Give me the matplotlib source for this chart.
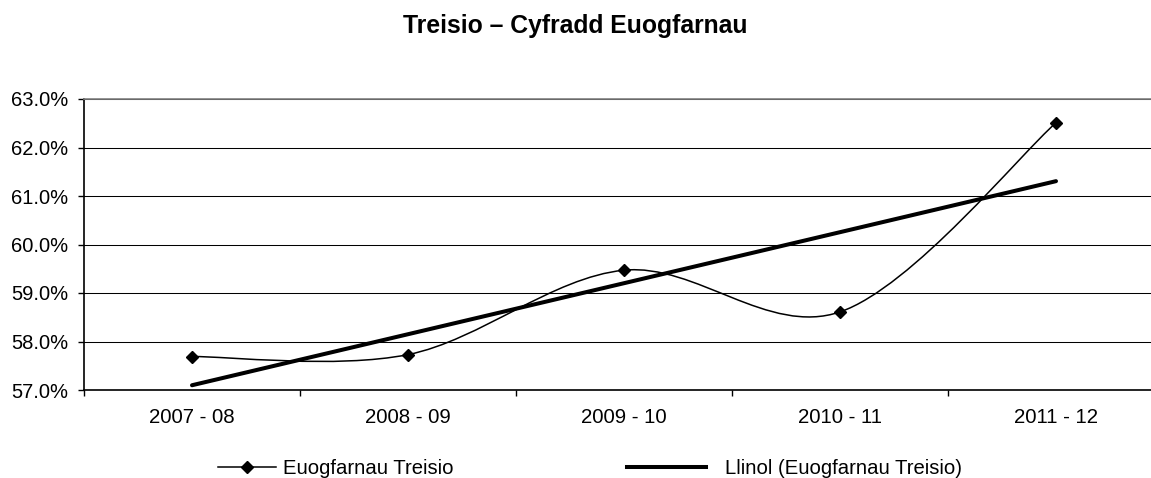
import numpy as np
import matplotlib
matplotlib.use("Agg")
import matplotlib.pyplot as plt
from matplotlib.path import Path
from matplotlib.patches import PathPatch
from matplotlib.lines import Line2D
from matplotlib.ticker import FuncFormatter, FixedLocator

plt.rcParams['font.family'] = ['Liberation Sans', 'DejaVu Sans']

categories = ["2007 - 08", "2008 - 09", "2009 - 10", "2010 - 11", "2011 - 12"]
rate = [57.69, 57.73, 59.47, 58.61, 62.51]
series_name = "Euogfarnau Treisio"
trend_name = "Llinol (Euogfarnau Treisio)"
title = "Treisio – Cyfradd Euogfarnau"
yticks = [57, 58, 59, 60, 61, 62, 63]

W, H = 1151, 478
fig = plt.figure(figsize=(W / 100, H / 100), dpi=100)
ax = fig.add_axes([84 / W, (H - 390) / H, 1080 / W, 291 / H])

x = np.arange(1, len(rate) + 1, dtype=float)
y = np.array(rate, dtype=float)

# Excel-style smoothed line (Catmull-Rom as cubic Bezier)
pts = np.column_stack([x, y])
n = len(pts)
verts = [tuple(pts[0])]
codes = [Path.MOVETO]
for i in range(n - 1):
    p0 = pts[max(i - 1, 0)]
    p1 = pts[i]
    p2 = pts[i + 1]
    p3 = pts[min(i + 2, n - 1)]
    c1 = p1 + (p2 - p0) / 6.0
    c2 = p2 - (p3 - p1) / 6.0
    verts += [tuple(c1), tuple(c2), tuple(p2)]
    codes += [Path.CURVE4] * 3
ax.add_patch(PathPatch(Path(verts, codes), facecolor='none', edgecolor='black',
                       lw=1.1, zorder=3))
ax.plot(x, y, linestyle='none', marker='D', ms=6.3, color='black', zorder=4)

# linear trend
k, b = np.polyfit(x, y, 1)
ax.plot([x[0], x[-1]], [k * x[0] + b, k * x[-1] + b], color='black', lw=2.9,
        solid_capstyle='round', zorder=3)

ax.set_xlim(0.5, len(rate) + 0.5)
ax.set_ylim(57, 63)
ax.yaxis.set_major_locator(FixedLocator(yticks))
ax.yaxis.set_major_formatter(FuncFormatter(lambda v, p: f"{v:.1f}%"))
ax.grid(axis='y', color='black', lw=0.75, zorder=1)
ax.set_axisbelow(True)

ax.xaxis.set_major_locator(FixedLocator(np.arange(0.5, len(rate) + 1, 1.0)))
ax.xaxis.set_major_formatter(FuncFormatter(lambda v, p: ""))
ax.xaxis.set_minor_locator(FixedLocator(x))
ax.set_xticklabels(categories, minor=True)
ax.tick_params(axis='x', which='major', length=4.3, width=1, direction='out')
ax.tick_params(axis='x', which='minor', length=0, pad=13, labelsize=14.7)
ax.tick_params(axis='y', length=4.3, width=1, pad=7.0, labelsize=14.5)

ax.spines['right'].set_visible(False)
ax.spines['top'].set_color('#808080')
ax.spines['top'].set_linewidth(1.2)
ax.spines['left'].set_linewidth(1.2)
ax.spines['bottom'].set_linewidth(1.2)

fig.text(0.5, (H - 33) / H, title, ha='center', va='baseline',
         fontsize=17.8, fontweight='bold')

h1 = Line2D([], [], color='black', lw=1.1, marker='D', ms=6.3)
h2 = Line2D([], [], color='black', lw=2.9)
fig.legend([h1], [series_name], loc='center left',
           bbox_to_anchor=(218 / W, (H - 469) / H), frameon=False,
           fontsize=14.6, handlelength=2.85, handletextpad=0.35,
           borderpad=0, borderaxespad=0)
fig.legend([h2], [trend_name], loc='center left',
           bbox_to_anchor=(627 / W, (H - 469) / H), frameon=False,
           fontsize=14.6, handlelength=3.9, handletextpad=0.95,
           borderpad=0, borderaxespad=0)

fig.savefig("out.png", dpi=100)
